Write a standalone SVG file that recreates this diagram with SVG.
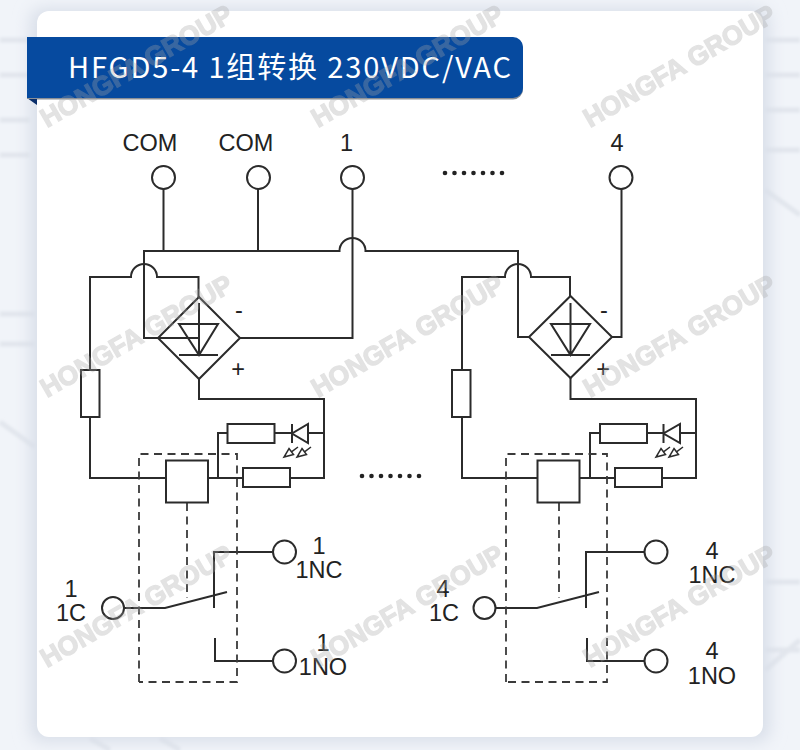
<svg xmlns="http://www.w3.org/2000/svg" width="800" height="750" viewBox="0 0 800 750">
<style>
.w{fill:none;stroke:#2b2b2b;stroke-width:2}
.b{fill:#fff;stroke:#2b2b2b;stroke-width:2}
.d{fill:none;stroke:#3a3a3a;stroke-width:1.800;stroke-dasharray:8 5.500}
.t{font-family:"Liberation Sans",Arial,sans-serif;font-size:23.500px;fill:#222;text-anchor:middle}
.m{font-family:"Liberation Sans",Arial,sans-serif;font-size:26.500px;font-weight:700;fill:#a6a6a6;stroke:#a6a6a6;stroke-width:1.300}
.o{fill:#222}
.f{fill:none;stroke:#e2e6ed;stroke-width:5}
</style>
<defs>
<filter id="sh" x="-5%" y="-5%" width="110%" height="110%"><feGaussianBlur stdDeviation="8"/></filter>
<filter id="bl" x="-5%" y="-5%" width="110%" height="110%"><feGaussianBlur stdDeviation="1.500"/></filter>
<g id="dots"><circle cx="0" cy="0" r="2.300" class="o"/><circle cx="9.500" cy="0" r="2.300" class="o"/><circle cx="19" cy="0" r="2.300" class="o"/><circle cx="28.500" cy="0" r="2.300" class="o"/><circle cx="38" cy="0" r="2.300" class="o"/><circle cx="47.500" cy="0" r="2.300" class="o"/><circle cx="57" cy="0" r="2.300" class="o"/></g>
<g id="arrow"><path class="w" style="stroke-width:1.500" d="M14 -10L7.500 -5.200M5 -8.500L9.500 -2.500L0 0Z"/></g>
</defs>
<rect width="800" height="750" fill="#f1f4f9"/>
<path class="f" filter="url(#bl)" d="M0 40H30M0 75H30M0 120H30M0 155H30M765 40H800M765 75H800M765 110H800M765 150H800M0 314H35M765 582H800M765 650H800M0 344H35M765 190L800 215M0 422L35 447M765 670L800 640M90 738L110 750M160 738L180 750"/>
<rect x="30" y="8" width="740" height="734" rx="12" fill="#d9dfe9" filter="url(#sh)"/>
<rect x="37" y="11" width="726" height="726" rx="12" fill="#fff"/>

<g id="banner">
<path d="M27 98L37 105V98Z" fill="#0b2f6b"/>
<path d="M27 38H513a10 10 0 0 1 10 10V89.500a10 10 0 0 1-10 10H37V99H27Z" fill="#8a8f96"/>
<path d="M27 37H513a10 10 0 0 1 10 10V88a10 10 0 0 1-10 10H27Z" fill="#064a9f"/>
<text x="68" y="78" font-family="'Noto Sans CJK SC','Noto Sans',sans-serif" font-size="29" fill="#fff" textLength="443" lengthAdjust="spacing">HFGD5-4 1组转换 230VDC/VAC</text>
</g>

<g id="connectors">
<path class="w" d="M163.500 189V251M258 189V251M352.500 189V338H240"/>
<path class="w" d="M199 338H144V251H339.500A13 13 0 0 1 365.500 251H518V321V337H529"/>
<path class="w" d="M90 370V277H131A13 13 0 0 1 157 277H198.500V297"/>
<path class="w" d="M90 417V478H166M208 478H243M290 478H324V399H199V379"/>
<path class="w" d="M218 478V433H227M275 433H292M308 433H324"/>
<path class="w" d="M621.500 189V337H612"/>
<path class="w" d="M462 370V277H505A13 13 0 0 1 531 277H570V296"/>
<path class="w" d="M462 417V478H537M580 478H615M662 478H696V399H570.500V378"/>
<path class="w" d="M590 478V433H600M647 433H663M680 433H696"/>
<path class="w" d="M124 608H165L227 592M214 608V552H272.500M215 638V661H272.500"/>
<path class="w" d="M495 608H537L599 592M586 608V552H644.500M587 638V661H644.500"/>
</g>

<g id="relay-box-1"><path class="d" d="M139 682V454H237V682H139M187 503V598"/></g>
<g id="relay-box-4"><path class="d" d="M506 682V454H607V682H506M559 503V598"/></g>

<g id="terminal-com-1"><circle class="b" cx="163.500" cy="177.500" r="11.500"/><text class="t" x="150" y="150.500">COM</text></g>
<g id="terminal-com-2"><circle class="b" cx="258.500" cy="177.500" r="11.500"/><text class="t" x="246" y="150.500">COM</text></g>
<g id="terminal-1"><circle class="b" cx="352.500" cy="177.500" r="11.500"/><text class="t" x="346.500" y="150.500">1</text></g>
<g id="terminal-4"><circle class="b" cx="621" cy="177.500" r="11.500"/><text class="t" x="617" y="150.500">4</text></g>

<g id="bridge-1"><path class="w" d="M199 297L240 338L199 379L158 338ZM199 303V356M179 324H218L199 355ZM179 355H218"/><text class="t" x="239" y="318">-</text><text class="t" x="238" y="377">+</text></g>
<g id="bridge-4"><path class="w" d="M570.500 296L612 337L570.500 378L529 337ZM570.500 303V356M551 324H590L570.500 355ZM551 355H590"/><text class="t" x="604" y="318">-</text><text class="t" x="603" y="377">+</text></g>

<g id="resistor-1a"><rect class="b" x="81" y="370" width="18.500" height="47"/></g>
<g id="resistor-1b"><rect class="b" x="243" y="468" width="47" height="19"/></g>
<g id="resistor-1c"><rect class="b" x="227.500" y="424" width="47" height="19"/></g>
<g id="coil-1"><rect class="b" x="166" y="460.500" width="42" height="42"/></g>
<g id="led-1"><path class="w" d="M292 424V443M308 424V443L292 433.500Z"/><use href="#arrow" x="284" y="457"/><use href="#arrow" x="297" y="457"/></g>

<g id="resistor-4a"><rect class="b" x="452" y="370" width="18.500" height="47"/></g>
<g id="resistor-4b"><rect class="b" x="615" y="468" width="47" height="19"/></g>
<g id="resistor-4c"><rect class="b" x="600" y="424" width="47" height="19"/></g>
<g id="coil-4"><rect class="b" x="537.500" y="460.500" width="42" height="42"/></g>
<g id="led-4"><path class="w" d="M663.500 424V443M680 424V443L663.500 433.500Z"/><use href="#arrow" x="656" y="457"/><use href="#arrow" x="669" y="457"/></g>

<g id="contact-1c"><circle class="b" cx="113" cy="608" r="11"/><text class="t" x="71" y="597">1</text><text class="t" x="71" y="621">1C</text></g>
<g id="contact-1nc"><circle class="b" cx="284.500" cy="552" r="11.500"/><text class="t" x="319" y="554">1</text><text class="t" x="319" y="578">1NC</text></g>
<g id="contact-1no"><circle class="b" cx="284.500" cy="661" r="11.500"/><text class="t" x="323" y="651">1</text><text class="t" x="323" y="675">1NO</text></g>
<g id="contact-4c"><circle class="b" cx="484.500" cy="608" r="11"/><text class="t" x="443" y="597">4</text><text class="t" x="444" y="621">1C</text></g>
<g id="contact-4nc"><circle class="b" cx="656" cy="552" r="11.500"/><text class="t" x="712" y="559">4</text><text class="t" x="712" y="583">1NC</text></g>
<g id="contact-4no"><circle class="b" cx="656" cy="661" r="11.500"/><text class="t" x="712" y="659">4</text><text class="t" x="712" y="684">1NO</text></g>

<use href="#dots" x="445" y="173"/>
<use href="#dots" x="362" y="476"/>

<g id="watermarks" opacity=".32">
<text class="m" transform="translate(47 128) rotate(-30)">HONGFA GROUP</text>
<text class="m" transform="translate(318 128) rotate(-30)">HONGFA GROUP</text>
<text class="m" transform="translate(590 128) rotate(-30)">HONGFA GROUP</text>
<text class="m" transform="translate(47 398) rotate(-30)">HONGFA GROUP</text>
<text class="m" transform="translate(318 398) rotate(-30)">HONGFA GROUP</text>
<text class="m" transform="translate(590 398) rotate(-30)">HONGFA GROUP</text>
<text class="m" transform="translate(47 668) rotate(-30)">HONGFA GROUP</text>
<text class="m" transform="translate(318 668) rotate(-30)">HONGFA GROUP</text>
<text class="m" transform="translate(590 668) rotate(-30)">HONGFA GROUP</text>
</g>
</svg>
